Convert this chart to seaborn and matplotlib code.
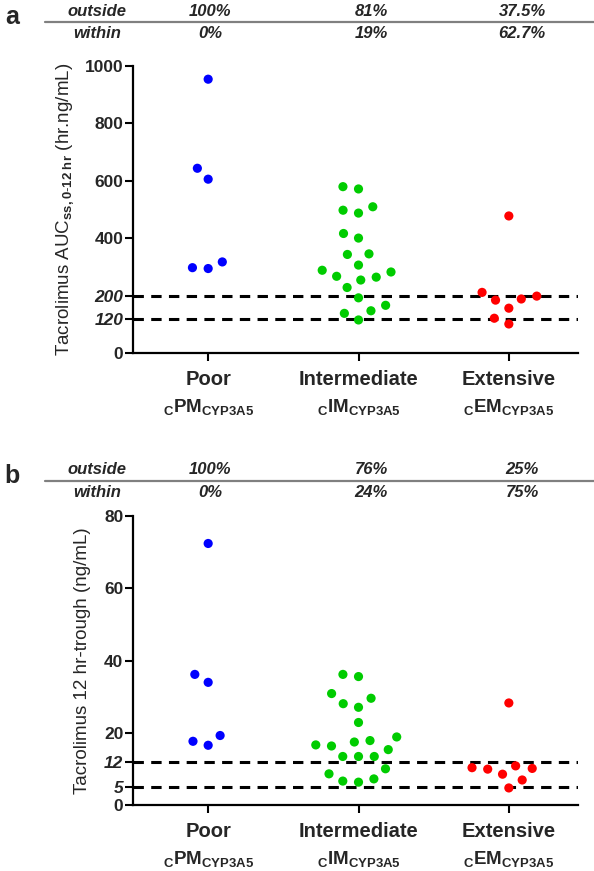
import seaborn as sns
import matplotlib.pyplot as plt
import matplotlib.transforms as mtransforms
from matplotlib.lines import Line2D
import pandas as pd
import numpy as np

# categories and colours
phenotypes = ["Poor", "Intermediate", "Extensive"]
sub_labels = [r"${}_{\mathbf{C}}\mathbf{PM}_{\mathbf{CYP3A5}}$",
              r"${}_{\mathbf{C}}\mathbf{IM}_{\mathbf{CYP3A5}}$",
              r"${}_{\mathbf{C}}\mathbf{EM}_{\mathbf{CYP3A5}}$"]
colors = ["#0000FF", "#00CC00", "#FF0000"]

# panel a: AUC (hr.ng/mL)
auc_poor = [953, 643, 605, 317, 297, 294]
auc_inter = [579, 571, 509, 497, 487, 416, 400, 345, 343, 306, 288, 282,
             267, 264, 254, 228, 192, 166, 147, 138, 115]
auc_ext = [477, 211, 198, 188, 184, 156, 121, 101]
auc_ticks = [0, 120, 200, 400, 600, 800, 1000]
auc_limits = [120, 200]
auc_outside = ["100%", "81%", "37.5%"]
auc_within = ["0%", "19%", "62.7%"]

# panel b: 12 hr trough (ng/mL)
trough_poor = [72.4, 36.2, 34.0, 19.3, 17.7, 16.6]
trough_inter = [36.2, 35.6, 30.9, 29.6, 28.1, 27.1, 22.9, 18.9, 17.9, 17.5,
                16.7, 16.4, 15.4, 13.5, 13.5, 13.5, 10.1, 8.7, 7.3, 6.7, 6.4]
trough_ext = [28.3, 10.9, 10.4, 10.2, 10.0, 8.6, 7.0, 4.8]
trough_ticks = [0, 5, 12, 20, 40, 60, 80]
trough_limits = [5, 12]
trough_outside = ["100%", "76%", "25%"]
trough_within = ["0%", "24%", "75%"]

sns.set_style("ticks")
plt.rcParams["font.family"] = ["Liberation Sans", "DejaVu Sans"]
plt.rcParams["mathtext.fontset"] = "custom"
plt.rcParams["mathtext.rm"] = "Liberation Sans"
plt.rcParams["mathtext.bf"] = "Liberation Sans:bold"
plt.rcParams["mathtext.it"] = "Liberation Sans:italic"

W, H = 594, 871
fig = plt.figure(figsize=(W / 100, H / 100), dpi=100)


def px_axes(left, top, right, bottom):
    return fig.add_axes([left / W, 1 - bottom / H, (right - left) / W, (bottom - top) / H])


def draw_panel(ax, groups, ymax, ticks, limits, ylabel, label_x):
    df = pd.DataFrame({
        "group": np.repeat(phenotypes, [len(g) for g in groups]),
        "value": np.concatenate(groups),
    })
    for y in limits:
        ax.axhline(y, color="black", lw=2.2, ls=(0, (3.4, 2.4)), zorder=1)
    sns.swarmplot(data=df, x="group", y="value", hue="group", order=phenotypes,
                  hue_order=phenotypes, palette=colors, size=10.8, linewidth=0,
                  legend=False, ax=ax, zorder=3)
    ax.set_xlim(-0.5, 2.46)
    ax.set_ylim(0, ymax)
    ax.set_yticks(ticks)
    ax.set_yticklabels([str(t) for t in ticks], fontsize=12.5, fontweight="bold")
    for lab, t in zip(ax.get_yticklabels(), ticks):
        if t in limits:
            lab.set_fontstyle("italic")
    ax.set_xticks(range(len(phenotypes)))
    ax.set_xticklabels(phenotypes, fontsize=14.5, fontweight="bold")
    ax.tick_params(axis="both", length=6, width=1.5, color="black")
    ax.tick_params(axis="x", pad=6)
    ax.tick_params(axis="y", pad=1)
    ax.set_xlabel("")
    ax.set_ylabel(ylabel, fontsize=13.5)
    ax.yaxis.set_label_coords(label_x, 0.5)
    sns.despine(ax=ax)
    for s in ["left", "bottom"]:
        ax.spines[s].set_linewidth(1.6)
        ax.spines[s].set_color("black")
    trans = mtransforms.blended_transform_factory(ax.transData, ax.transAxes)
    for i, lab in enumerate(sub_labels):
        ax.annotate(lab, xy=(i, 0), xycoords=trans, xytext=(0, -39),
                    textcoords="offset points", ha="center", va="center",
                    fontsize=13.5)


def draw_table(letter, y_out, y_line, y_in, outside, within):
    fig.text(12 / W, 1 - (y_out + 6) / H, letter, fontsize=18, fontweight="bold",
             ha="center", va="center")
    fig.text(97 / W, 1 - y_out / H, "outside", fontsize=12, fontweight="bold",
             style="italic", ha="center", va="center")
    fig.text(97 / W, 1 - y_in / H, "within", fontsize=12, fontweight="bold",
             style="italic", ha="center", va="center")
    for xc, o, w in zip([210, 371, 522], outside, within):
        fig.text(xc / W, 1 - y_out / H, o, fontsize=12, fontweight="bold",
                 style="italic", ha="center", va="center")
        fig.text(xc / W, 1 - y_in / H, w, fontsize=12, fontweight="bold",
                 style="italic", ha="center", va="center")
    fig.add_artist(Line2D([45 / W, 594 / W], [1 - y_line / H] * 2,
                          transform=fig.transFigure, color="#808080", lw=1.6))


ax_a = px_axes(133, 65.7, 578, 353)
draw_panel(ax_a, [auc_poor, auc_inter, auc_ext], 1000, auc_ticks, auc_limits,
           r"Tacrolimus AUC$_{\mathbf{ss,0\text{-}12\ hr}}$ (hr.ng/mL)", -0.128)

ax_b = px_axes(133, 516, 578, 805.3)
draw_panel(ax_b, [trough_poor, trough_inter, trough_ext], 80, trough_ticks,
           trough_limits, "Tacrolimus 12 hr-trough (ng/mL)", -0.094)

draw_table("a", 11, 22, 34, auc_outside, auc_within)
draw_table("b", 470, 481, 492, trough_outside, trough_within)

# lay out swarms with a wide spacing, then shrink the markers
fig.canvas.draw()
for ax in [ax_a, ax_b]:
    for coll in ax.collections:
        if "draw" in coll.__dict__:
            del coll.draw
        coll.set_sizes([6.6 ** 2])

plt.savefig("out.png", dpi=100)
